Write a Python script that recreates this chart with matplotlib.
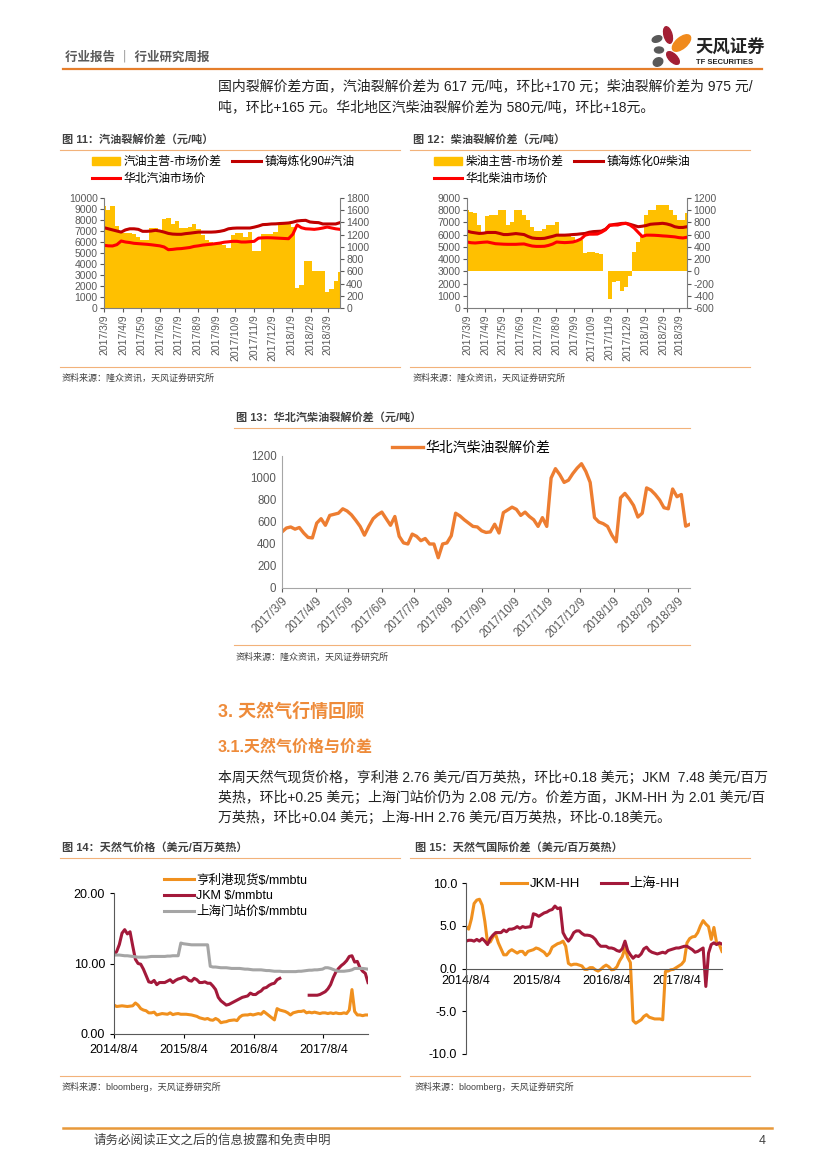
import numpy as np
import pandas as pd
import matplotlib
matplotlib.use("Agg")
import matplotlib.pyplot as plt
from matplotlib.lines import Line2D
from matplotlib.patches import Patch, Ellipse
from matplotlib.ticker import FormatStrFormatter

plt.rcParams['font.family'] = ['Liberation Sans', 'Noto Sans CJK SC', 'DejaVu Sans']
plt.rcParams['axes.unicode_minus'] = False

# ---------------- data ----------------
# fig 11: gasoline, weekly from 2017-03-09
gas_dates = pd.date_range('2017-03-09', periods=56, freq='7D')
gas_spread = [1674, 1602, 1674, 1350, 1242, 1224, 1224, 1206, 1170, 1116,
              1116, 1314, 1314, 1260, 1458, 1476, 1368, 1422, 1314, 1314,
              1332, 1368, 1296, 1188, 1116, 1080, 1044, 1044, 1026, 990,
              1188, 1224, 1224, 1170, 1242, 936, 936, 1206, 1206, 1206,
              1242, 1368, 1368, 1368, 1332, 324, 378, 774, 774, 612,
              612, 612, 270, 306, 450, 594]
zh_gasoline = [7300, 7200, 7100, 7000, 6900, 7100, 7200, 7200, 7150, 6970,
               6970, 7000, 7060, 7000, 6900, 6780, 6720, 6700, 6700, 6760,
               6800, 6850, 6900, 6900, 6900, 6900, 6920, 6970, 7050, 7200,
               7250, 7270, 7270, 7270, 7270, 7350, 7450, 7580, 7600, 7640,
               7650, 7680, 7700, 7730, 7800, 7910, 7950, 7970, 7820, 7780,
               7760, 7640, 7640, 7640, 7640, 7760]
hb_gasoline = [5700, 5650, 5640, 5760, 6090, 6000, 5950, 5880, 5850, 5820,
               5790, 5750, 5700, 5650, 5550, 5300, 5330, 5380, 5400, 5450,
               5500, 5600, 5650, 5720, 5760, 5800, 5850, 5900, 5980, 6020,
               6060, 6060, 6000, 6000, 6030, 6060, 6350, 6380, 6390, 6380,
               6360, 6340, 6320, 6300, 6700, 7550, 7300, 7200, 7180, 7150,
               7200, 7270, 7360, 7280, 7200, 7150]

# fig 12: diesel, weekly from 2017-03-09
diesel_dates = pd.date_range('2017-03-09', periods=55, freq='7D')
diesel_spread = [1000, 970, 960, 760, 650, 910, 920, 920, 1000, 1000,
                 760, 810, 1000, 1000, 920, 840, 730, 660, 660, 700,
                 760, 760, 810, 600, 590, 590, 560, 510, 510, 300,
                 320, 320, 300, 280, 10, -460, -180, -160, -320, -260,
                 -80, 320, 480, 590, 920, 1000, 1000, 1090, 1090, 1090,
                 1000, 920, 840, 840, 950]
zh_diesel = [6290, 6200, 6150, 6100, 6120, 6180, 6180, 6180, 6100, 6010,
             6010, 6050, 6090, 6050, 6010, 5850, 5730, 5690, 5680, 5700,
             5780, 5860, 5960, 5960, 5960, 5980, 6010, 6030, 6070, 6100,
             6200, 6250, 6270, 6290, 6450, 6750, 6830, 6870, 6920, 6930,
             6850, 6750, 6650, 6690, 6750, 6850, 6880, 6900, 6930, 6880,
             6790, 6650, 6590, 6590, 6650]
hb_diesel = [5400, 5340, 5320, 5350, 5380, 5400, 5330, 5260, 5240, 5220,
             5210, 5210, 5210, 5230, 5240, 5150, 5070, 5040, 5040, 5050,
             5120, 5230, 5400, 5370, 5350, 5370, 5400, 5500, 5650, 5960,
             6040, 6040, 6050, 6200, 6400, 6790, 6790, 6790, 6880, 6930,
             6790, 6550, 6200, 5850, 5960, 5960, 5950, 5930, 5900, 5880,
             5850, 5820, 5760, 5730, 5790]

# fig 13: north China crack spread, every 4 days from 2017-03-09
crack_dates = pd.date_range('2017-03-09', periods=95, freq='4D')
hb_crack = [510, 545, 555, 535, 550, 500, 460, 455, 590, 630,
            570, 660, 670, 680, 720, 700, 665, 615, 560, 480,
            560, 630, 665, 690, 630, 570, 650, 470, 410, 400,
            490, 470, 430, 450, 400, 400, 275, 400, 410, 475,
            680, 655, 620, 590, 560, 555, 520, 505, 510, 580,
            500, 685, 710, 735, 715, 660, 690, 650, 620, 560,
            640, 560, 1000, 1085, 1030, 960, 980, 1040, 1090, 1130,
            1060, 960, 640, 600, 585, 560, 480, 420, 820, 860,
            810, 750, 645, 680, 910, 890, 850, 800, 730, 720,
            900, 830, 850, 562, 580]

month_ticks = ['2017/3/9', '2017/4/9', '2017/5/9', '2017/6/9', '2017/7/9',
               '2017/8/9', '2017/9/9', '2017/10/9', '2017/11/9', '2017/12/9',
               '2018/1/9', '2018/2/9', '2018/3/9']

# fig 14/15: gas prices, every 14 days from 2014-08-04
gas_px_dates = pd.date_range('2014-08-04', periods=96, freq='14D')
nan = np.nan
henry_hub = [4.1, 3.9, 3.95, 4.0, 3.95, 3.9, 3.95, 4.0, 4.4, 4.1,
             3.6, 3.4, 3.3, 3.0, 3.0, 3.1, 2.7, 2.8, 2.9, 2.85,
             2.8, 3.0, 2.75, 2.85, 2.9, 2.8, 2.8, 2.8, 2.75, 2.7,
             2.6, 2.5, 2.3, 2.2, 2.1, 2.2, 2.0, 1.95, 2.2, 2.0,
             1.6, 1.7, 1.75, 1.9, 1.95, 2.0, 1.9, 2.4, 2.65, 2.7,
             2.7, 2.8, 2.7, 2.8, 2.9, 2.8, 3.2, 2.9, 2.6, 2.3,
             2.0, 3.6, 3.4, 3.3, 3.2, 3.0, 2.7, 3.0, 3.1, 3.2,
             3.2, 3.3, 3.0, 3.1, 3.0, 3.1, 3.0, 2.9, 3.0, 3.0,
             2.9, 3.0, 2.9, 3.0, 2.9, 2.9, 3.0, 2.9, 3.4, 6.3,
             3.2, 2.7, 2.7, 2.6, 2.7, 2.7]
jkm = [11.2, 11.7, 12.7, 14.3, 14.8, 14.2, 14.5, 12.5, 10.6, 10.0,
       9.9, 9.2, 8.3, 7.4, 7.3, 7.6, 7.0, 7.3, 7.3, 7.3,
       7.5, 7.7, 7.3, 7.6, 7.8, 7.9, 8.1, 8.0, 7.6, 7.5,
       7.9, 7.7, 7.3, 7.3, 7.4, 7.2, 7.2, 6.8, 6.3, 5.2,
       4.7, 4.4, 4.1, 4.2, 4.4, 4.6, 4.8, 5.0, 5.2, 5.3,
       5.4, 5.8, 5.6, 5.6, 5.9, 6.1, 6.5, 6.6, 6.9, 7.1,
       7.2, 7.7, 7.9, nan, nan, nan, nan, nan, nan, nan,
       nan, nan, nan, 5.5, 5.5, 5.5, 5.5, 5.6, 5.8, 6.0,
       6.4, 7.0, 8.0, 8.8, 9.3, 9.7, 10.0, 10.4, 11.0, 11.1,
       10.2, 10.3, 9.4, 8.9, 8.6, 7.3]
shanghai_gate = [11.2, 11.2, 11.2, 11.15, 11.1, 11.1, 11.05, 11.0, 10.95, 10.9,
                 10.9, 10.9, 10.9, 10.95, 11.0, 11.0, 11.0, 11.0, 11.0, 11.0,
                 11.05, 11.05, 11.1, 11.1, 11.1, 12.9, 12.8, 12.75, 12.7, 12.65,
                 12.65, 12.65, 12.65, 12.65, 12.65, 12.65, 9.6, 9.5, 9.5, 9.45,
                 9.4, 9.4, 9.4, 9.35, 9.3, 9.3, 9.3, 9.3, 9.25, 9.2,
                 9.2, 9.15, 9.1, 9.1, 9.1, 9.1, 9.05, 9.0, 9.0, 8.95,
                 8.9, 8.9, 8.9, 8.85, 8.85, 8.85, 8.85, 8.85, 8.85, 8.9,
                 8.9, 8.95, 9.0, 9.05, 9.05, 9.1, 9.1, 9.15, 9.2, 9.4,
                 9.4, 9.3, 9.15, 9.0, 8.9, 8.9, 8.9, 8.95, 9.0, 9.1,
                 9.3, 9.3, 9.3, 9.3, 9.25, 9.2]
jkm_hh = [4.9, 4.6, 5.8, 7.6, 8.0, 8.1, 7.4, 5.5, 3.0, 3.1,
          3.7, 4.0, 3.0, 2.3, 1.6, 1.6, 2.0, 2.2, 2.0, 1.8,
          2.0, 2.0, 1.6, 2.0, 2.1, 2.2, 2.4, 2.3, 2.1, 1.9,
          1.5, 1.8, 2.5, 2.7, 2.9, 3.0, 3.2, 2.6, 0.6, 0.4,
          0.5, 0.5, 0.4, 0.3, -0.1, -0.1, 0.1, 0.1, -0.15, -0.3,
          -0.1, 0.2, 0.4, 0.2, -0.15, -0.1, 0.2, 0.9, 1.4, 2.4,
          1.3, 0.7, -6.1, -6.4, -6.2, -6.0, -5.6, -5.4, -5.7, -5.8,
          -5.9, -5.9, -5.9, -6.0, -0.35, -0.3, -0.15, -0.1, 0.1, 0.3,
          0.5, 0.9, 3.0, 3.5, 3.7, 3.75, 4.2, 5.0, 5.6, 5.2,
          4.9, 3.4, 4.8, 3.0, 2.8, 2.0]
sh_hh = [3.2, 3.3, 3.3, 3.2, 3.4, 3.2, 3.5, 3.2, 2.8, 3.5,
         3.9, 4.2, 4.2, 4.2, 4.5, 4.3, 4.6, 4.6, 4.7, 4.9,
         4.7, 4.9, 4.8, 4.85, 4.9, 6.4, 6.3, 6.1, 6.3, 6.5,
         6.6, 6.8, 6.9, 7.3, 7.0, 7.1, 4.2, 3.6, 3.2, 3.6,
         4.2, 4.4, 4.4, 4.1, 3.9, 3.9, 3.85, 3.7, 3.4, 2.9,
         2.6, 2.6, 2.6, 2.4, 2.4, 2.3, 2.1, 2.0, 2.3, 3.2,
         2.1, 1.6, 1.2, 1.5, 1.4, 1.7, 2.3, 2.5, 2.1, 1.9,
         1.8, 1.7, 1.8, 1.9, 1.8, 2.1, 2.2, 2.3, 2.4, 2.4,
         2.5, 2.6, 2.6, 2.4, 2.2, 1.9, 2.0, 2.2, 2.4, -2.1,
         1.8, 2.8, 3.0, 2.8, 3.0, 2.85]
year_ticks = ['2014/8/4', '2015/8/4', '2016/8/4', '2017/8/4']

# ---------------- page layout helpers (pixel coords, y from top) ----------------
W, H = 827, 1169
fig = plt.figure(figsize=(W / 100, H / 100), dpi=100)
fig.patch.set_facecolor('white')

ORANGE = '#E8873A'
LIGHT_OR = '#F2B27A'
TICK_GRAY = '#595959'
SPINE = '#7F7F7F'


def fx(x):
    return x / W


def fy(y):
    return 1 - y / H


def axes_px(x0, y_top, x1, y_bot):
    return fig.add_axes([fx(x0), fy(y_bot), (x1 - x0) / W, (y_bot - y_top) / H])


def hline(x0, x1, y, color=LIGHT_OR, lw=0.8):
    fig.add_artist(Line2D([fx(x0), fx(x1)], [fy(y), fy(y)],
                          transform=fig.transFigure, color=color, lw=lw))


def put(x, y, s, **kw):
    kw.setdefault('va', 'center')
    fig.text(fx(x), fy(y), s, **kw)


def style_spines(ax, keep, color=SPINE):
    for side in ['top', 'bottom', 'left', 'right']:
        ax.spines[side].set_visible(side in keep)
        ax.spines[side].set_color(color)
        ax.spines[side].set_linewidth(0.8)


# ---------------- header ----------------
put(65, 57, '行业报告 ｜ 行业研究周报', fontsize=9, color='#595959', fontweight='bold')
hline(63, 762, 69, color='#E57E2B', lw=1.6)

logo = axes_px(645, 20, 695, 70)
logo.set_xlim(0, 50)
logo.set_ylim(0, 50)
logo.axis('off')
logo.add_patch(Ellipse((23, 35), 8, 17, angle=15, color='#A31F34'))
logo.add_patch(Ellipse((36.5, 27), 22, 11, angle=40, color='#F08A1C'))
logo.add_patch(Ellipse((12, 31), 10, 6, angle=20, color='#595959'))
logo.add_patch(Ellipse((14, 20), 9, 6, angle=0, color='#595959'))
logo.add_patch(Ellipse((28, 12), 16, 8, angle=-45, color='#A31F34'))
logo.add_patch(Ellipse((13, 8), 10, 8, angle=30, color='#595959'))
put(695, 47, '天风证券', fontsize=12.5, fontweight='bold', color='#222222')
put(696, 63, 'TF SECURITIES', fontsize=5.5, fontweight='bold', color='#222222')

# ---------------- paragraph 1 ----------------
BODY = dict(fontsize=10, color='#222222')
put(218, 87, '国内裂解价差方面，汽油裂解价差为 617 元/吨，环比+170 元；柴油裂解价差为 975 元/', **BODY)
put(218, 107, '吨，环比+165 元。华北地区汽柴油裂解价差为 580元/吨，环比+18元。', **BODY)

TITLE = dict(fontsize=8, fontweight='bold', color='#404040')
SRC = dict(fontsize=6.5, color='#404040')


def dual_axis_chart(x0, x1, dates, spread, zh, hb, left_lim, left_step,
                    right_lim, right_step):
    ax = axes_px(x0, 198, x1, 308)
    axr = ax.twinx()
    axr.bar(dates, spread, width=7, color='#FFC000', linewidth=0)
    axr.set_ylim(*right_lim)
    axr.set_yticks(np.arange(right_lim[0], right_lim[1] + 1, right_step))
    ax.plot(dates, zh, color='#C00000', lw=2.2, solid_joinstyle='round')
    ax.plot(dates, hb, color='#FF0000', lw=2.2, solid_joinstyle='round')
    ax.set_ylim(*left_lim)
    ax.set_yticks(np.arange(left_lim[0], left_lim[1] + 1, left_step))
    ax.set_zorder(axr.get_zorder() + 1)
    ax.patch.set_visible(False)
    ax.set_xlim(dates[0], dates[-1])
    ax.set_xticks(pd.to_datetime(month_ticks, format='%Y/%m/%d'))
    ax.set_xticklabels(month_ticks, rotation=90)
    style_spines(ax, ['left', 'bottom'])
    style_spines(axr, ['right'])
    for a in (ax, axr):
        a.tick_params(labelsize=7.5, colors=TICK_GRAY, length=3, width=0.8, pad=1.5)
    return ax


LEG_KW = dict(loc='upper left', ncol=2, frameon=False, fontsize=8.5,
              handlelength=2.4, handleheight=0.7, handletextpad=0.3,
              columnspacing=0.9, labelspacing=0.45, borderaxespad=0, borderpad=0)

# ---------------- fig 11 ----------------
put(62, 139, '图 11：汽油裂解价差（元/吨）', **TITLE)
hline(60, 400, 150)
dual_axis_chart(104, 340, gas_dates, gas_spread, zh_gasoline, hb_gasoline,
                (0, 10000), 1000, (0, 1800), 200)
fig.legend(handles=[Patch(color='#FFC000'), Line2D([], [], color='#FF0000', lw=2.2),
                    Line2D([], [], color='#C00000', lw=2.2)],
           labels=['汽油主营-市场价差', '华北汽油市场价', '镇海炼化90#汽油'],
           bbox_to_anchor=(fx(92), fy(156)), **LEG_KW)
hline(60, 400, 367)
put(62, 378, '资料来源：隆众资讯，天风证券研究所', **SRC)

# ---------------- fig 12 ----------------
put(413, 139, '图 12：柴油裂解价差（元/吨）', **TITLE)
hline(410, 750, 150)
dual_axis_chart(467, 687, diesel_dates, diesel_spread, zh_diesel, hb_diesel,
                (0, 9000), 1000, (-600, 1200), 200)
fig.legend(handles=[Patch(color='#FFC000'), Line2D([], [], color='#FF0000', lw=2.2),
                    Line2D([], [], color='#C00000', lw=2.2)],
           labels=['柴油主营-市场价差', '华北柴油市场价', '镇海炼化0#柴油'],
           bbox_to_anchor=(fx(434), fy(156)), **LEG_KW)
hline(410, 750, 367)
put(413, 378, '资料来源：隆众资讯，天风证券研究所', **SRC)

# ---------------- fig 13 ----------------
put(236, 417, '图 13：华北汽柴油裂解价差（元/吨）', **TITLE)
hline(234, 690, 428)
ax13 = axes_px(282, 456, 690, 588)
ax13.plot(crack_dates, hb_crack, color='#ED7D31', lw=2.4, solid_joinstyle='round',
          label='华北汽柴油裂解价差')
ax13.set_ylim(0, 1200)
ax13.set_yticks(range(0, 1201, 200))
ax13.set_xlim(crack_dates[0], crack_dates[-1])
ax13.set_xticks(pd.to_datetime(month_ticks, format='%Y/%m/%d'))
ax13.set_xticklabels(month_ticks, rotation=45, ha='right', rotation_mode='anchor')
style_spines(ax13, ['left', 'bottom'], color='#A6A6A6')
ax13.tick_params(labelsize=8.3, colors=TICK_GRAY, width=0.8)
ax13.tick_params(axis='y', length=0, pad=4)
ax13.tick_params(axis='x', length=3, pad=2)
ax13.legend(loc='center left', bbox_to_anchor=(fx(392), fy(448)),
            bbox_transform=fig.transFigure, frameon=False, fontsize=10,
            handlelength=2.2, handletextpad=0.2, borderaxespad=0, borderpad=0)
hline(234, 690, 645)
put(236, 657, '资料来源：隆众资讯，天风证券研究所', **SRC)

# ---------------- section 3 ----------------
put(218, 712, '3. 天然气行情回顾', fontsize=13, fontweight='bold', color='#EE8B3A')
put(218, 747, '3.1.天然气价格与价差', fontsize=11.5, fontweight='bold', color='#EE8B3A')
put(218, 778, '本周天然气现货价格，亨利港 2.76 美元/百万英热，环比+0.18 美元；JKM  7.48 美元/百万', **BODY)
put(218, 798, '英热，环比+0.25 美元；上海门站价仍为 2.08 元/方。价差方面，JKM-HH 为 2.01 美元/百', **BODY)
put(218, 818, '万英热，环比+0.04 美元；上海-HH 2.76 美元/百万英热，环比-0.18美元。', **BODY)

year_tick_pos = pd.to_datetime(year_ticks, format='%Y/%m/%d')

# ---------------- fig 14 ----------------
put(62, 847, '图 14：天然气价格（美元/百万英热）', **TITLE)
hline(60, 400, 858)
ax14 = axes_px(114, 893, 368, 1034)
ax14.plot(gas_px_dates, henry_hub, color='#F0901E', lw=2.2, label='亨利港现货$/mmbtu')
ax14.plot(gas_px_dates, jkm, color='#A3193A', lw=2.2, label='JKM $/mmbtu')
ax14.plot(gas_px_dates, shanghai_gate, color='#A5A5A5', lw=2.2, label='上海门站价$/mmbtu')
ax14.set_ylim(0, 20)
ax14.set_yticks([0, 10, 20])
ax14.yaxis.set_major_formatter(FormatStrFormatter('%.2f'))
ax14.set_xlim(gas_px_dates[0], gas_px_dates[-1])
ax14.set_xticks(year_tick_pos)
ax14.set_xticklabels(year_ticks)
style_spines(ax14, ['left', 'bottom'], color='#595959')
ax14.tick_params(labelsize=9, colors='black', length=3, width=0.8)
ax14.tick_params(axis='x', pad=4)
ax14.legend(loc='upper left', bbox_to_anchor=(fx(164), fy(874)),
            bbox_transform=fig.transFigure, frameon=False, fontsize=9,
            handlelength=2.4, handletextpad=0.15, labelspacing=0.3,
            borderaxespad=0, borderpad=0)
hline(60, 400, 1076)
put(62, 1087, '资料来源：bloomberg，天风证券研究所', **SRC)

# ---------------- fig 15 ----------------
put(415, 847, '图 15：天然气国际价差（美元/百万英热）', **TITLE)
hline(410, 750, 858)
ax15 = axes_px(466, 883, 722, 1054)
ax15.plot(gas_px_dates, jkm_hh, color='#F0901E', lw=2.2, label='JKM-HH')
ax15.plot(gas_px_dates, sh_hh, color='#A3193A', lw=2.2, label='上海-HH')
ax15.set_ylim(-10, 10)
ax15.set_yticks([-10, -5, 0, 5, 10])
ax15.yaxis.set_major_formatter(FormatStrFormatter('%.1f'))
ax15.set_xlim(gas_px_dates[0], gas_px_dates[-1])
ax15.set_xticks(year_tick_pos)
ax15.set_xticklabels(year_ticks)
style_spines(ax15, ['left', 'bottom'], color='#595959')
ax15.spines['bottom'].set_position(('data', 0))
ax15.tick_params(labelsize=9, colors='black', width=0.8)
ax15.tick_params(axis='y', length=3)
ax15.tick_params(axis='x', length=0, pad=5)
ax15.legend(loc='center left', bbox_to_anchor=(fx(501), fy(884)),
            bbox_transform=fig.transFigure, frameon=False, fontsize=9.5, ncol=2,
            handlelength=2.0, handletextpad=0.15, columnspacing=1.6,
            borderaxespad=0, borderpad=0)
hline(410, 750, 1076)
put(415, 1087, '资料来源：bloomberg，天风证券研究所', **SRC)

# ---------------- footer ----------------
hline(63, 772, 1128, color='#E8993A', lw=1.8)
put(93, 1141, '请务必阅读正文之后的信息披露和免责申明', fontsize=9, color='#404040')
put(766, 1141, '4', fontsize=9, color='#404040', ha='right')

fig.savefig('out.png', dpi=100, facecolor='white')
